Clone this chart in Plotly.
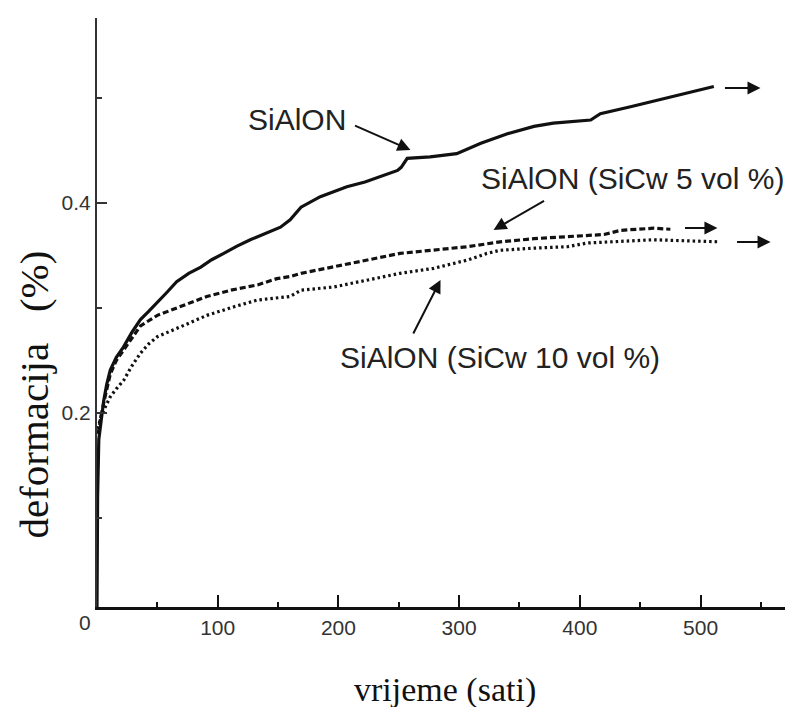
import plotly.graph_objects as go

# ---------------- data ----------------
solid_t = [0, 0.5, 1.5, 3, 5.6, 8, 11, 16, 22, 29, 36, 43, 50, 58, 66, 76, 86, 95, 105, 116, 127,
           137, 146, 152, 160, 169, 185, 207, 222, 235, 249, 252, 257, 276, 298, 318, 340, 362,
           378, 409, 417, 442, 470, 492, 511]
solid_v = [0.015, 0.12, 0.175, 0.19, 0.212, 0.227, 0.241, 0.253, 0.263, 0.277, 0.289, 0.297,
           0.305, 0.315, 0.325, 0.333, 0.339, 0.346, 0.352, 0.359, 0.365, 0.37, 0.374, 0.377,
           0.384, 0.396, 0.406, 0.4155, 0.42, 0.425, 0.431, 0.434, 0.4425, 0.444, 0.447, 0.457,
           0.466, 0.473, 0.476, 0.479, 0.485, 0.4917, 0.4997, 0.506, 0.511]

sic5_t = [1, 3, 6, 11, 16, 22, 29, 36, 50, 69, 91, 111, 133, 149, 160, 169, 196, 224, 251, 279,
          307, 334, 362, 390, 406, 420, 434, 461, 475]
sic5_v = [0.18, 0.195, 0.212, 0.237, 0.25, 0.26, 0.272, 0.283, 0.293, 0.301, 0.311, 0.317,
          0.322, 0.328, 0.33, 0.333, 0.339, 0.3457, 0.352, 0.355, 0.3584, 0.363, 0.366, 0.368,
          0.369, 0.370, 0.374, 0.376, 0.375]

sic10_t = [1, 3, 7, 11, 16, 22, 29, 36, 43, 50, 69, 91, 113, 133, 160, 169, 196, 224, 251, 279,
           307, 323, 334, 362, 390, 406, 461, 516]
sic10_v = [0.185, 0.196, 0.206, 0.2155, 0.223, 0.231, 0.245, 0.257, 0.266, 0.2727, 0.282, 0.293,
           0.301, 0.3076, 0.311, 0.317, 0.320, 0.3267, 0.333, 0.3378, 0.3457, 0.352, 0.355,
           0.357, 0.3584, 0.3619, 0.365, 0.363]

x_ticks = [100, 200, 300, 400, 500]
x_minor = [50, 150, 250, 350, 450, 550]
y_ticks = [0.2, 0.4]
y_minor = [0.1, 0.3, 0.5]

labels = ["SiAlON", "SiAlON (SiCw 5 vol %)", "SiAlON (SiCw 10 vol %)"]
origin_label = "0"
x_title = "vrijeme (sati)"
y_title = "deformacija   (%)"

# ---------------- figure ----------------
fig = go.Figure()
fig.add_trace(go.Scatter(x=solid_t, y=solid_v, mode="lines",
                         line=dict(color="#111111", width=3.2), showlegend=False))
fig.add_trace(go.Scatter(x=sic5_t, y=sic5_v, mode="lines",
                         line=dict(color="#111111", width=3.2, dash="6px,3px"), showlegend=False))
fig.add_trace(go.Scatter(x=sic10_t, y=sic10_v, mode="lines",
                         line=dict(color="#111111", width=3.2, dash="2.5px,3px"), showlegend=False))

lab_font = dict(family="Liberation Sans, Arial, sans-serif", size=30, color="#222222")
ann = [
    dict(x=165.3, y=0.480, text=labels[0], showarrow=False, font=lab_font),
    dict(x=444, y=0.4238, text=labels[1], showarrow=False, font=lab_font),
    dict(x=333.9, y=0.2524, text=labels[2], showarrow=False, font=lab_font),
    dict(xref="paper", yref="paper", x=-0.01724, y=-0.02716, text=origin_label,
         showarrow=False, xanchor="center", yanchor="middle",
         font=dict(family="Liberation Sans, Arial, sans-serif", size=21, color="#333333")),
]
arrows = [
    (212.5, 0.4743, 259.7, 0.4505),
    (371.6, 0.4029, 328.5, 0.3743),
    (261.4, 0.2743, 284.6, 0.3267),
    (519.0, 0.5095, 549.7, 0.5095),
    (485.9, 0.3762, 514.0, 0.3762),
    (529.0, 0.3629, 558.0, 0.3629),
]
for ax_, ay_, x_, y_ in arrows:
    ann.append(dict(x=x_, y=y_, ax=ax_, ay=ay_, xref="x", yref="y", axref="x", ayref="y",
                    text="", showarrow=True, arrowhead=2, arrowsize=1.3, arrowwidth=2,
                    arrowcolor="#111111"))

ann.append(dict(xref="paper", yref="paper", x=0.5, y=-0.1409, text=x_title,
                xanchor="center", yanchor="middle", showarrow=False,
                font=dict(family="Liberation Serif, Times New Roman, serif", size=34,
                          color="#111111")))
ann.append(dict(xref="paper", yref="paper", x=-0.091, y=0.36, text=y_title, textangle=-90,
                xanchor="center", yanchor="middle", showarrow=False,
                font=dict(family="Liberation Serif, Times New Roman, serif", size=41,
                          color="#111111")))

tick_font = dict(family="Liberation Sans, Arial, sans-serif", size=21, color="#333333")
fig.update_layout(
    width=793, height=707,
    # the page body adds an 8px offset; margins compensate so the plot sits where the reference's does
    margin=dict(l=89, r=8, t=10, b=108),
    paper_bgcolor="white", plot_bgcolor="white",
    annotations=ann,
    xaxis=dict(range=[0, 576.6], showgrid=False, zeroline=False, showline=True,
               linecolor="#111111", linewidth=2.5, ticks="inside", ticklen=12, tickwidth=2,
               tickcolor="#111111", tickvals=x_ticks, ticktext=[str(v) for v in x_ticks],
               tickfont=tick_font, automargin=False,
               minor=dict(tickvals=x_minor, ticks="inside", ticklen=5, tickwidth=2,
                          tickcolor="#111111", showgrid=False)),
    yaxis=dict(range=[0.01524, 0.5762], showgrid=False, zeroline=False, showline=True,
               linecolor="#333333", linewidth=2, ticks="inside", ticklen=10, tickwidth=2,
               tickcolor="#333333", tickvals=y_ticks, ticktext=["0.2", "0.4"],
               tickfont=tick_font, automargin=False,
               minor=dict(tickvals=y_minor, ticks="inside", ticklen=5, tickwidth=2,
                          tickcolor="#333333", showgrid=False)),
)

fig.write_html("out.html")
